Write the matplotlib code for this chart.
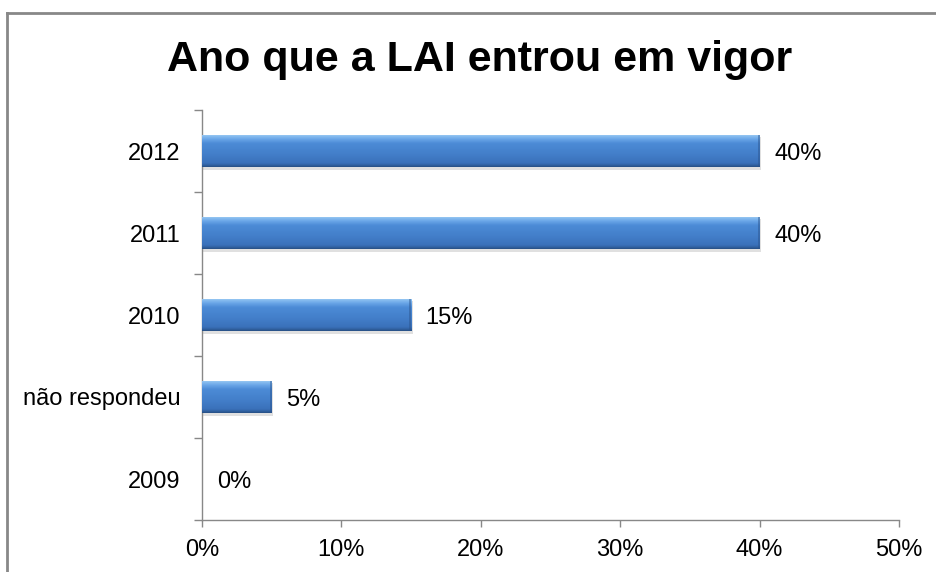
import matplotlib
matplotlib.use("Agg")
import matplotlib.pyplot as plt
import numpy as np
from matplotlib.colors import LinearSegmentedColormap
from matplotlib.lines import Line2D

categories = ["2009", "não respondeu", "2010", "2011", "2012"]
values = [0, 5, 15, 40, 40]
xticks = [0, 10, 20, 30, 40, 50]
xtick_labels = ["0%", "10%", "20%", "30%", "40%", "50%"]
title = "Ano que a LAI entrou em vigor"

plt.rcParams['font.family'] = ['Liberation Sans', 'DejaVu Sans']

fig = plt.figure(figsize=(9.36, 5.72), dpi=100)
ax = fig.add_axes([202/936, 1-520/572, 697/936, 410/572])

bar_h = 0.40
y = np.arange(len(categories))
bars = ax.barh(y, values, height=bar_h, color="#4483CF", edgecolor="none", zorder=2)

cmap = LinearSegmentedColormap.from_list("bevel", [
    (0.00, "#A8D0F6"),
    (0.05, "#8CC0F0"),
    (0.15, "#6AA6E8"),
    (0.28, "#4C8BD6"),
    (0.60, "#437FCA"),
    (0.88, "#3A71BA"),
    (0.95, "#30609E"),
    (1.00, "#264D80"),
])
grad = np.linspace(0, 1, 256).reshape(-1, 1)
for i, b in enumerate(bars):
    w = b.get_width()
    x0, y0, h = b.get_x(), b.get_y(), b.get_height()
    if w > 0:
        sh = plt.Rectangle((x0, y0 - 0.035), w + 0.12, h, facecolor="#000000", alpha=0.12,
                           edgecolor="none", zorder=1)
        ax.add_patch(sh)
        im = ax.imshow(grad, extent=(x0, x0 + w, y0, y0 + h), origin="upper",
                       cmap=cmap, aspect="auto", zorder=3, interpolation="bicubic")
        im.set_clip_path(b)
        ax.add_patch(plt.Rectangle((x0 + w - 0.12, y0), 0.12, h, facecolor="#2A528A",
                                   alpha=0.45, edgecolor="none", zorder=4))
    ax.text(x0 + w + 1.05, y[i], f"{values[i]}%", va="center_baseline", ha="left",
            fontsize=17, color="#000000", zorder=5)

ax.set_xlim(0, 50)
ax.set_ylim(-0.5, len(categories) - 0.5)
ax.set_xticks(xticks)
ax.set_xticklabels(xtick_labels, fontsize=17)
ax.set_yticks(y)
ax.set_yticklabels(categories, fontsize=17, va="center_baseline")
ax.set_yticks(np.arange(-0.5, len(categories) - 0.5 + 0.01, 1.0), minor=True)
ax.tick_params(axis="y", which="major", length=0, pad=15.5)
ax.tick_params(axis="y", which="minor", length=6, color="#888888", width=1, direction="out")
ax.tick_params(axis="x", which="major", length=5, color="#888888", width=1, pad=9)

for s in ["top", "right"]:
    ax.spines[s].set_visible(False)
for s in ["left", "bottom"]:
    ax.spines[s].set_color("#888888")
    ax.spines[s].set_linewidth(1)

fig.text(480/936, 1 - 60/572, title, ha="center", va="center", fontsize=31,
         fontweight="bold", color="#000000")

fig.add_artist(Line2D([7.5/936, 1.0], [1 - 12.5/572, 1 - 12.5/572], transform=fig.transFigure,
                      color="#888888", linewidth=2))
fig.add_artist(Line2D([7.5/936, 7.5/936], [0, 1 - 12.5/572], transform=fig.transFigure,
                      color="#888888", linewidth=2))

fig.savefig("out.png", dpi=100)
